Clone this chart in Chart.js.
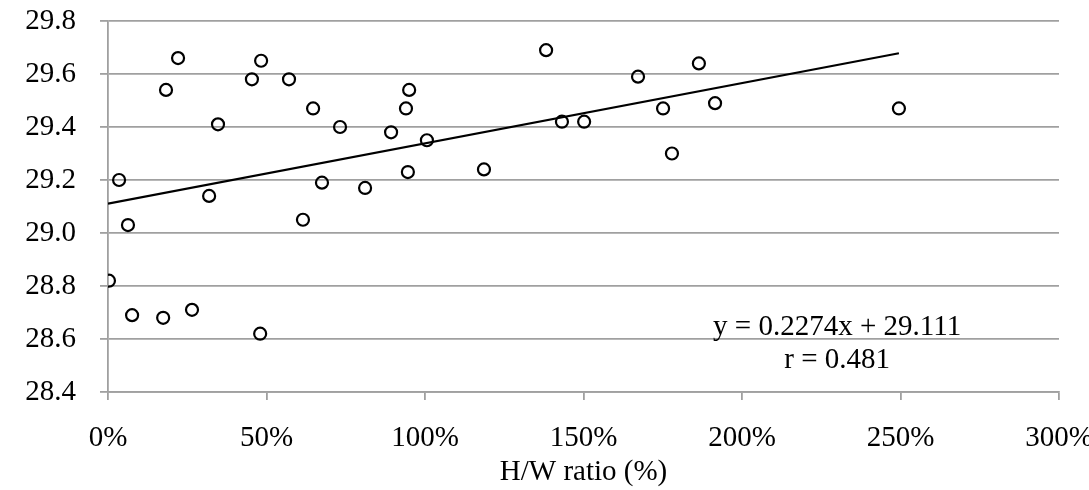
<!DOCTYPE html>
<html>
<head>
<meta charset="utf-8">
<script src="https://cdn.jsdelivr.net/npm/chart.js@4.4.1/dist/chart.umd.min.js"></script>
<style>
  html, body { margin: 0; padding: 0; background: #fff; }
  #wrap { width: 1089px; height: 490px; }
</style>
</head>
<body>
<div id="wrap"><canvas id="chart"></canvas></div>
<script>
// H/W ratio in percent
const hwRatio = [
    3.5, 18.3, 22.1, 34.7, 31.9, 45.4, 48.3, 57.1, 64.7, 67.5,
    73.2, 81.1, 89.3, 95.0, 94.0, 94.6, 100.6, 61.5,
    6.3, 0.3, 7.6, 17.4, 26.5, 48.0,
    138.2, 143.2, 150.2, 118.6, 167.2, 186.4, 175.1, 191.5, 177.9,
    249.5
];
const values = [
    29.20, 29.54, 29.66, 29.41, 29.14, 29.58, 29.65, 29.58, 29.47, 29.19,
    29.40, 29.17, 29.38, 29.54, 29.47, 29.23, 29.35, 29.05,
    29.03, 28.82, 28.69, 28.68, 28.71, 28.62,
    29.69, 29.42, 29.42, 29.24, 29.59, 29.64, 29.47, 29.49, 29.30,
    29.47
];
const yTicks = [28.4, 28.6, 28.8, 29.0, 29.2, 29.4, 29.6, 29.8];
const xTicks = [0, 50, 100, 150, 200, 250, 300];

// trend line from the printed equation (x as a fraction)
const slope = 0.2274;
const intercept = 29.111;
const trendX = [0, 249.5];
const eqLines = ["y = 0.2274x + 29.111", "r = 0.481"];

const font = "'Liberation Serif', 'Times New Roman', serif";
const fontSize = 29;

const eqLabel = {
    id: "eqLabel",
    afterDraw(chart) {
        const { ctx, scales } = chart;
        ctx.save();
        ctx.fillStyle = "#000";
        ctx.font = fontSize + "px " + font;
        ctx.textAlign = "center";
        ctx.textBaseline = "middle";
        const cx = scales.x.getPixelForValue(230);
        ctx.fillText(eqLines[0], cx, scales.y.getPixelForValue(28.645));
        ctx.fillText(eqLines[1], cx, scales.y.getPixelForValue(28.52));
        ctx.restore();
    }
};

new Chart(document.getElementById("chart"), {
    type: "scatter",
    data: {
        datasets: [
            {
                data: hwRatio.map((x, i) => ({ x: x, y: values[i] })),
                pointStyle: "circle",
                pointRadius: 6,
                pointBorderWidth: 2.2,
                pointBorderColor: "#000",
                pointBackgroundColor: "rgba(255,255,255,0)",
                order: 1
            },
            {
                type: "line",
                data: trendX.map(x => ({ x: x, y: slope * x / 100 + intercept })),
                borderColor: "#000",
                borderWidth: 2.2,
                pointRadius: 0,
                fill: false,
                order: 2
            }
        ]
    },
    options: {
        responsive: true,
        maintainAspectRatio: false,
        animation: false,
        layout: { padding: { left: 0, right: 30, top: 21, bottom: 0 } },
        plugins: {
            legend: { display: false },
            tooltip: { enabled: false }
        },
        scales: {
            x: {
                type: "linear",
                min: 0,
                max: 300,
                afterBuildTicks: s => { s.ticks = xTicks.map(v => ({ value: v })); },
                afterFit: s => { s.height = 98; s.paddingLeft = 0; s.paddingRight = 0; },
                border: { color: "#a0a0a0", width: 1.8 },
                grid: { drawOnChartArea: false, drawTicks: true, tickLength: 8, color: "#a0a0a0", lineWidth: 1.8 },
                ticks: {
                    color: "#000",
                    font: { family: font, size: fontSize },
                    padding: 21,
                    maxRotation: 0,
                    callback: v => v + "%"
                },
                title: {
                    display: true,
                    text: "H/W ratio (%)",
                    color: "#000",
                    font: { family: font, size: fontSize },
                    padding: { top: 5, bottom: 0 }
                }
            },
            y: {
                min: 28.4,
                max: 29.8,
                afterBuildTicks: s => { s.ticks = yTicks.map(v => ({ value: v })); },
                afterFit: s => { s.width = 108; s.paddingTop = 0; s.paddingBottom = 0; },
                border: { color: "#a0a0a0", width: 1.8 },
                grid: { color: "#a0a0a0", lineWidth: 1.8, tickLength: 8 },
                ticks: {
                    color: "#000",
                    font: { family: font, size: fontSize },
                    padding: 24,
                    callback: v => v.toFixed(1)
                }
            }
        }
    },
    plugins: [eqLabel]
});
</script>
</body>
</html>
